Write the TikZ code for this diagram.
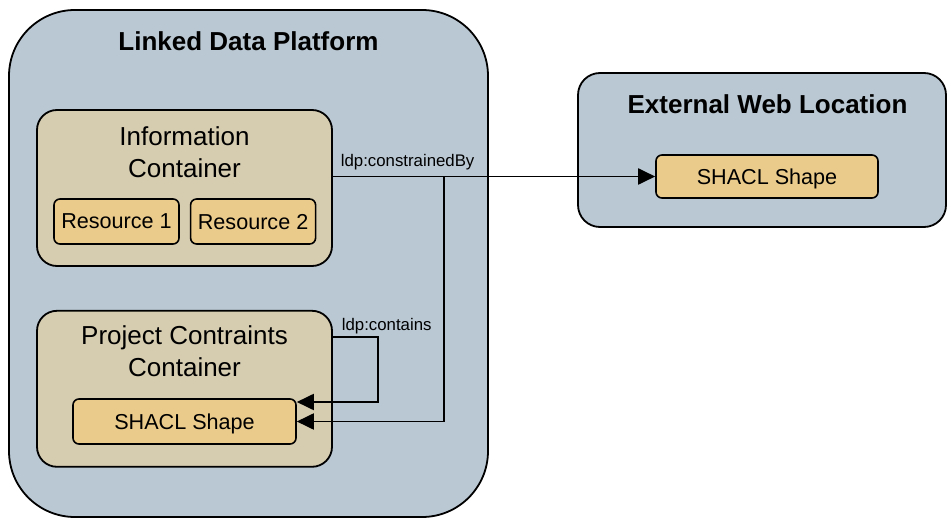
\documentclass[tikz,border=0pt]{standalone}
\usepackage{fontspec}
\setmainfont{Liberation Sans}
\usepackage{xcolor}
\usetikzlibrary{positioning, arrows.meta, calc}

\definecolor{platform}{HTML}{BAC8D3}
\definecolor{container}{HTML}{D6CCB0}
\definecolor{shapefill}{HTML}{EBCB8B}

\begin{document}
\begin{tikzpicture}[
    x=1pt, y=-1pt,
    zone/.style={rectangle, draw, line width=1.8pt, fill=platform, inner sep=0pt},
    cont/.style={rectangle, draw, line width=1.8pt, fill=container, rounded corners=20pt, minimum width=295pt, minimum height=156pt, inner sep=0pt},
    item/.style={rectangle, draw, line width=1.6pt, fill=shapefill, rounded corners=6pt, minimum height=45pt, inner sep=0pt, text depth=0pt, font=\fontsize{21.6}{26}\selectfont},
    title/.style={anchor=base, font=\bfseries\fontsize{26}{31}\selectfont},
    ctitle/.style={anchor=base, align=center, font=\fontsize{26}{32.5}\selectfont},
    rel/.style={anchor=base west, inner sep=0pt, font=\fontsize{16.8}{20}\selectfont},
    link/.style={-{Triangle[length=17pt, width=16pt]}, line width=1.9pt},
]
\useasboundingbox (0,0) rectangle (947,518);

% Linked Data Platform
\node[zone, rounded corners=66pt, minimum width=479pt, minimum height=507pt] (ldp) at (248.5,263.5) {};
\node[title] (ldptitle) at (248.5,51) {Linked Data Platform};

% Information container with its resources
\node[cont] (ic) at (184.5,188) {};
\node[ctitle] (ictitle) at (184.5,178) {Information\\Container};
\node[item, minimum width=125pt] (res1) at (116.5,221.5) {Resource 1};
\node[item, minimum width=125pt, right=10pt of res1] (res2) {Resource 2};

% Project constraints container
\node[cont, below=43pt of ic] (pcc) {};
\node[ctitle] (pcctitle) at (184.5,376.7) {Project Contraints\\Container};
\node[item, minimum width=223pt] (shlocal) at (184.5,421.5) {SHACL Shape};

% External web location
\node[zone, rounded corners=22pt, minimum width=368pt, minimum height=154pt] (ewl) at (762,150) {};
\node[title] (ewltitle) at (767.5,113.3) {External Web Location};
\node[item, minimum width=222pt, minimum height=43pt] (shext) at (767,176.5) {SHACL Shape};

% ldp:constrainedBy, to the web location and back into the platform
\draw[link] (ic.east |- shext.west) coordinate (cb) -- node[rel, pos=0, xshift=7pt, yshift=10pt] {ldp:constrainedBy} (shext.west);
\coordinate (fork) at ($(cb)+(111,0)$);
\draw[link] (fork) |- (shlocal.east);

% ldp:contains
\draw[link] ([yshift=52pt]pcc.east) -- node[rel, pos=0, xshift=8pt, yshift=6pt] {ldp:contains} ++(45,0) |- ([yshift=19.5pt]shlocal.east);

\end{tikzpicture}
\end{document}
